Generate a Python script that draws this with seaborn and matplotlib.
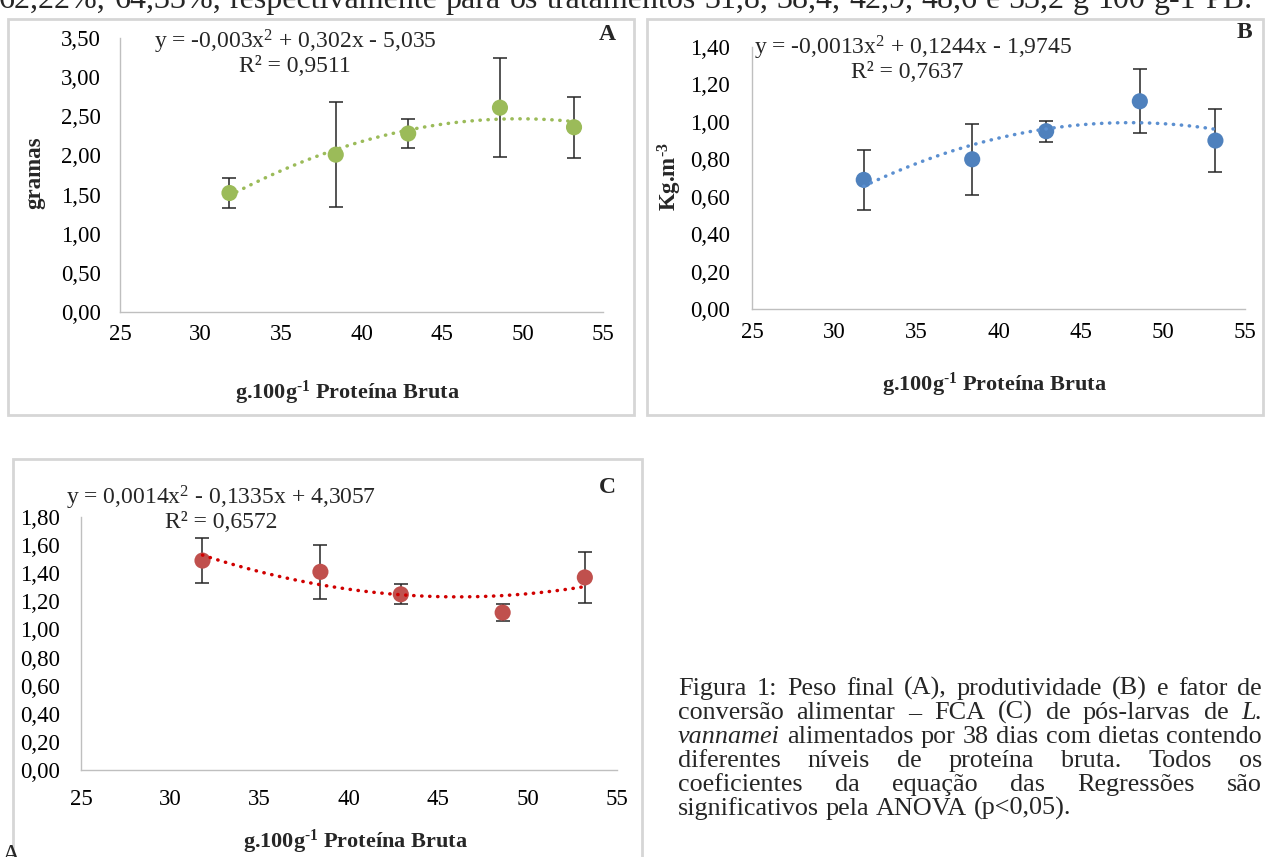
import matplotlib
matplotlib.use('Agg')
import matplotlib.pyplot as plt
from matplotlib.patches import Rectangle
from matplotlib.ticker import FuncFormatter, MultipleLocator
import seaborn as sns

# dados
proteina = [31.8, 38.4, 42.9, 48.6, 53.2]
peso_final = [1.52, 2.01, 2.28, 2.61, 2.36]
peso_erro = [0.19, 0.67, 0.19, 0.63, 0.39]
produtividade = [0.69, 0.80, 0.95, 1.11, 0.90]
prod_erro = [0.16, 0.19, 0.055, 0.17, 0.17]
fca = [1.49, 1.41, 1.25, 1.12, 1.37]
fca_erro = [0.16, 0.19, 0.07, 0.06, 0.18]

x_ticks = [25, 30, 35, 40, 45, 50, 55]

W, H = 1266, 857

sns.set_style('white')
plt.rcParams['font.family'] = ['Liberation Serif', 'DejaVu Serif']
plt.rcParams['mathtext.fontset'] = 'custom'
plt.rcParams['mathtext.rm'] = 'Liberation Serif'
plt.rcParams['mathtext.it'] = 'Liberation Serif:italic'
plt.rcParams['mathtext.bf'] = 'Liberation Serif:bold'


def fx(x):
    return x / W


def fy(y):
    return 1 - y / H


def box(l, t, r, b):
    return [l / W, 1 - b / H, (r - l) / W, (b - t) / H]


def virgula(v, pos):
    return f'{v:.2f}'.replace('.', ',')


fig = plt.figure(figsize=(W / 100, H / 100), dpi=100)
fig.patch.set_facecolor('white')

# molduras dos graficos
for l, t, r, b in [(8, 19, 634, 415), (647, 19, 1263, 415), (13, 459, 642, 875)]:
    fig.patches.append(Rectangle((fx(l), fy(b)), (r - l) / W, (b - t) / H,
                                 transform=fig.transFigure, fill=False,
                                 edgecolor='#D6D6D6', lw=2))

# hifen (U+2010) no expoente para nao virar sinal de menos
rotulo_x = 'g.100g$^{\\mathbf{\u20101}}$ Proteína Bruta'

paineis = [
    dict(y=peso_final, err=peso_erro, cor='#9BBB59', linha='#9BBB59',
         rect=(120, 38, 603, 312), ymax=3.5, passo=0.5, ypad=14, xpad=9,
         eq=r'y = -0,003x$^{2}$ + 0,302x - 5,035', r2='R² = 0,9511',
         eqpos=(295, 42), r2pos=(295, 67), letra='A', letpos=(607, 35),
         xlab=(347, 393), ylab='gramas', ylabpos=(35, 173)),
    dict(y=produtividade, err=prod_erro, cor='#4F81BD', linha='#5B8FD0',
         rect=(752, 47, 1245, 309), ymax=1.4, passo=0.2, ypad=16, xpad=9,
         eq=r'y = -0,0013x$^{2}$ + 0,1244x - 1,9745', r2='R² = 0,7637',
         eqpos=(913, 48), r2pos=(907, 73), letra='B', letpos=(1244, 32),
         xlab=(994, 385), ylab='Kg.m$^{\\mathbf{\u20103}}$', ylabpos=(670, 177)),
    dict(y=fca, err=fca_erro, cor='#C0504D', linha='#D00000',
         rect=(81, 517, 617, 770), ymax=1.8, passo=0.2, ypad=15, xpad=14,
         eq=r'y = 0,0014x$^{2}$ - 0,1335x + 4,3057', r2='R² = 0,6572',
         eqpos=(221, 498), r2pos=(221, 523), letra='C', letpos=(607, 488),
         xlab=(355, 842), ylab=None, ylabpos=None),
]

for p in paineis:
    ax = fig.add_axes(box(*p['rect']))
    ax.errorbar(proteina, p['y'], yerr=p['err'], fmt='none', ecolor='#262626',
                elinewidth=1.1, capsize=4.8, capthick=1.1, zorder=2)
    sns.scatterplot(x=proteina, y=p['y'], color=p['cor'], s=135,
                    edgecolor='none', ax=ax, zorder=3)
    sns.regplot(x=proteina, y=p['y'], order=2, ci=None, scatter=False, ax=ax,
                line_kws=dict(color=p['linha'], lw=2.5, ls=(0, (0.1, 2.2)),
                              dash_capstyle='round', zorder=4))
    ax.set_xlim(25, 55)
    ax.set_xticks(x_ticks)
    ax.set_ylim(0, p['ymax'])
    ax.yaxis.set_major_locator(MultipleLocator(p['passo']))
    ax.yaxis.set_major_formatter(FuncFormatter(virgula))
    ax.tick_params(length=0, labelsize=16.5, colors='black')
    ax.tick_params(axis='y', pad=p['ypad'])
    ax.tick_params(axis='x', pad=p['xpad'])
    ax.set_xlabel('')
    ax.set_ylabel('')
    for s in ['top', 'right']:
        ax.spines[s].set_visible(False)
    for s in ['left', 'bottom']:
        ax.spines[s].set_color('#BFBFBF')
        ax.spines[s].set_linewidth(1)
    ax.patch.set_alpha(0)

    fig.text(fx(p['eqpos'][0]), fy(p['eqpos'][1]), p['eq'], fontsize=17,
             ha='center', va='center')
    fig.text(fx(p['r2pos'][0]), fy(p['r2pos'][1]), p['r2'], fontsize=17,
             ha='center', va='center')
    fig.text(fx(p['letpos'][0]), fy(p['letpos'][1]), p['letra'], fontsize=17,
             weight='bold', ha='center', va='center')
    fig.text(fx(p['xlab'][0]), fy(p['xlab'][1]), rotulo_x, fontsize=16,
             weight='bold', ha='center', va='center')
    if p['ylab']:
        fig.text(fx(p['ylabpos'][0]), fy(p['ylabpos'][1]), p['ylab'],
                 fontsize=16.5, weight='bold', rotation=90,
                 ha='center', va='center')

# legenda da figura (texto justificado)
renderer = fig.canvas.get_renderer()


def justificar(partes, x0, x1, y, size, ultima=False):
    textos = [fig.text(0, fy(y), w, fontsize=size, style=st, va='baseline')
              for w, st in partes]
    larg = [t.get_window_extent(renderer).width for t in textos]
    if ultima:
        gap = size * 0.25 * 100 / 72
    else:
        gap = (x1 - x0 - sum(larg)) / (len(textos) - 1)
    x = x0
    for t, w in zip(textos, larg):
        t.set_x(fx(x))
        x += w + gap


def palavras(frase, st='normal'):
    return [(w, st) for w in frase.split()]


linhas = [
    palavras('Figura 1: Peso final (A), produtividade (B) e fator de'),
    palavras('conversão alimentar – FCA (C) de pós-larvas de') + [('L.', 'italic')],
    [('vannamei', 'italic')] + palavras('alimentados por 38 dias com dietas contendo'),
    palavras('diferentes níveis de proteína bruta. Todos os'),
    palavras('coeficientes da equação das Regressões são'),
    palavras('significativos pela ANOVA (p<0,05).'),
]
for i, partes in enumerate(linhas):
    justificar(partes, 678, 1262, 695 + 24 * i, 18.8, ultima=(i == len(linhas) - 1))

# linha de texto cortada no topo da imagem
justificar(palavras('62,22%, 64,33%, respectivamente para os tratamentos '
                    '31,8, 38,4, 42,9, 48,6 e 53,2 g 100 g\u20101 PB.'),
           -1, 1252, 8, 23)

fig.text(fx(2), fy(862), 'A', fontsize=18.8, va='baseline')

fig.savefig('out.png', dpi=100)
